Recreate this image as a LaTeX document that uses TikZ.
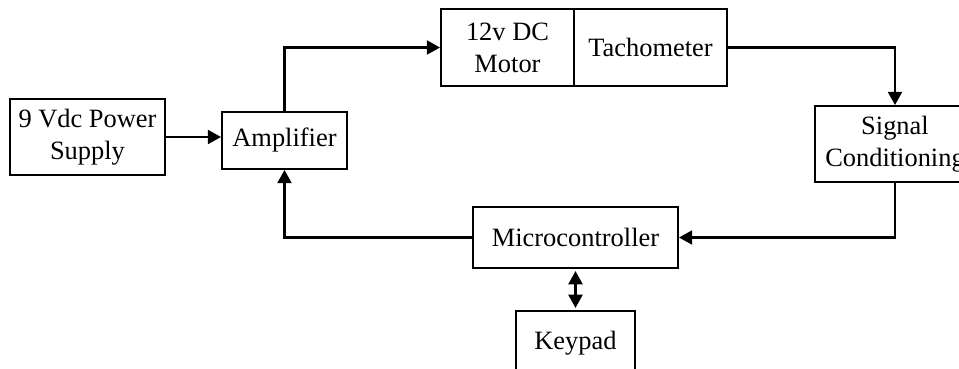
\documentclass[tikz,border=0pt]{standalone}
\usepackage{fontspec}
\setmainfont{Liberation Serif}
\usetikzlibrary{arrows.meta}
\tikzset{
  block/.style={draw,rectangle,line width=1.4pt,inner sep=0pt,align=center,
    font=\fontsize{18.8}{22.6}\selectfont},
  link/.style={line width=1.6pt}
}

\begin{document}
\begin{tikzpicture}[>={Triangle[length=3.3mm,width=3.5mm]}]
  \useasboundingbox (0,0) rectangle (23.975,-9.2);

  \node[block,minimum width=3.875cm,minimum height=1.9cm] (psu) at (2.1875,-3.425) {9 Vdc Power\\Supply};
  \node[block,minimum width=3.125cm,minimum height=1.425cm] (amp) at (7.1125,-3.5125) {Amplifier};
  \node[block,minimum width=3.325cm,minimum height=1.925cm] (motor) at (12.6875,-1.1875) {12v DC\\Motor};
  \node[block,minimum width=3.825cm,minimum height=1.925cm] (tach) at (16.2625,-1.1875) {Tachometer};
  \node[block,minimum width=4cm,minimum height=1.9cm] (sigcond) at (22.375,-3.6) {Signal\\Conditioning};
  \node[block,minimum width=5.125cm,minimum height=1.525cm] (mcu) at (14.3875,-5.9375) {Microcontroller};
  \node[block,minimum width=2.975cm,minimum height=1.6cm] (keypad) at (14.3875,-8.575) {Keypad};

  \draw[link,->] (psu.east) -- (psu.east -| amp.west);
  \draw[link,->] (amp.north) |- (motor.west);
  \draw[link,->] (tach.east) -| (sigcond.north);
  \draw[link,->] (sigcond.south) |- (mcu.east);
  \draw[link,->] (mcu.west) -| (amp.south);
  \draw[link,<->,shorten <=1.5pt,shorten >=1.5pt] (mcu.south) -- (keypad.north);
\end{tikzpicture}
\end{document}
